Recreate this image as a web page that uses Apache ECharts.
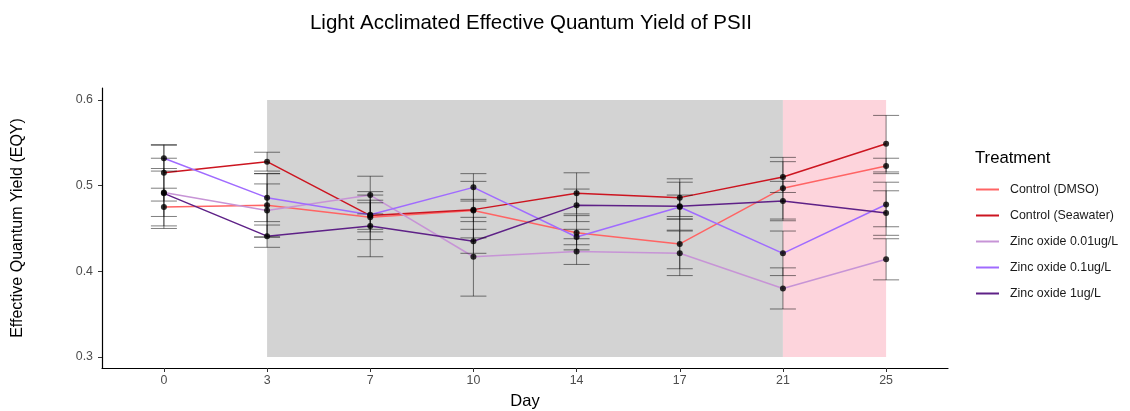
<!DOCTYPE html>
<html>
<head>
<meta charset="utf-8">
<script src="https://cdn.jsdelivr.net/npm/echarts@6/dist/echarts.min.js"></script>
<style>html,body{margin:0;padding:0;background:#fff}#c{width:1130px;height:411px}</style>
</head>
<body>
<div id="c"></div>
<script>
const days = ['0','3','7','10','14','17','21','25'];
const names = ['Control (DMSO)','Control (Seawater)','Zinc oxide 0.01ug/L','Zinc oxide 0.1ug/L','Zinc oxide 1ug/L'];
const colors = ['#ff6464','#cc1520','#c794d6','#a06bff','#5e2187'];
const dmso     = [0.475,0.477,0.463,0.471,0.445,0.432,0.497,0.523];
const dmsoErr  = [0.022,0.037,0.017,0.013,0.020,0.029,0.036,0.009];
const seawater = [0.515,0.528,0.465,0.472,0.491,0.486,0.510,0.549];
const seaErr   = [0.033,0.011,0.028,0.033,0.024,0.022,0.018,0.033];
const zn001    = [0.492,0.471,0.489,0.417,0.423,0.421,0.380,0.414];
const zn001Err = [0.028,0.031,0.022,0.046,0.015,0.026,0.024,0.024];
const zn01     = [0.532,0.486,0.466,0.498,0.440,0.475,0.421,0.478];
const zn01Err  = [0.015,0.028,0.017,0.016,0.009,0.014,0.026,0.026];
const zn1      = [0.491,0.441,0.453,0.435,0.477,0.476,0.482,0.468];
const zn1Err   = [0.041,0.013,0.036,0.014,0.019,0.028,0.023,0.026];
const yTicks = [0.3,0.4,0.5,0.6];
const greyBand = ['3','21'];
const pinkBand = ['21','25'];

const means = [dmso, seawater, zn001, zn01, zn1];
const errs = [dmsoErr, seaErr, zn001Err, zn01Err, zn1Err];
const xi = d => days.indexOf(d) + 1;

const series = [];
series.push({
  type: 'line', data: [], silent: true, z: 1,
  markArea: { silent: true, data: [
    [{ xAxis: xi(greyBand[0]), yAxis: 0.3, itemStyle: { color: '#d3d3d3' } }, { xAxis: xi(greyBand[1]), yAxis: 0.6 }],
    [{ xAxis: xi(pinkBand[0]), yAxis: 0.3, itemStyle: { color: '#fdd4dc' } }, { xAxis: xi(pinkBand[1]), yAxis: 0.6 }]
  ]}
});
names.forEach((n, k) => {
  series.push({
    name: n, type: 'line', z: 2, symbol: 'none', silent: true,
    color: colors[k],
    lineStyle: { color: colors[k], width: 1.5 },
    data: means[k].map((v, i) => [i + 1, v])
  });
});
const ebData = [];
names.forEach((n, k) => means[k].forEach((v, i) => ebData.push([i + 1, v, errs[k][i]])));
series.push({
  type: 'custom', z: 3, silent: true,
  data: ebData,
  encode: { x: 0, y: 1 },
  renderItem: (params, api) => {
    const x = api.value(0), m = api.value(1), e = api.value(2);
    const top = api.coord([x, m + e]);
    const bot = api.coord([x, m - e]);
    const hw = 13;
    const st = { stroke: 'rgba(0,0,0,0.5)', lineWidth: 1 };
    return { type: 'group', children: [
      { type: 'line', shape: { x1: top[0], y1: top[1], x2: bot[0], y2: bot[1] }, style: st },
      { type: 'line', shape: { x1: top[0]-hw, y1: top[1], x2: top[0]+hw, y2: top[1] }, style: st },
      { type: 'line', shape: { x1: bot[0]-hw, y1: bot[1], x2: bot[0]+hw, y2: bot[1] }, style: st }
    ]};
  }
});
const ptData = [];
means.forEach(arr => arr.forEach((v, i) => ptData.push([i + 1, v])));
series.push({
  type: 'scatter', z: 4, silent: true, symbolSize: 6,
  itemStyle: { color: '#000' }, data: ptData
});

const chart = echarts.init(document.getElementById('c'));
chart.setOption({
  animation: false,
  backgroundColor: '#fff',
  title: { text: 'Light Acclimated Effective Quantum Yield of PSII', left: 526, textAlign: 'center', top: 8,
    textStyle: { fontFamily: 'Liberation Sans', fontSize: 20.5, fontWeight: 'normal', color: '#000' } },
  grid: { left: 102, top: 88, width: 846, height: 280, outerBoundsMode: 'none', containLabel: false },
  legend: {
    orient: 'vertical', left: 971, top: 177, icon: 'rect', itemWidth: 23, itemHeight: 2, itemGap: 11,
    data: names,
    textStyle: { fontFamily: 'Liberation Sans', fontSize: 12.4, color: '#1a1a1a', lineHeight: 15, padding: [0,0,0,6] },
    selectedMode: false
  },
  graphic: [{ type: 'text', left: 975, top: 150, style: { text: 'Treatment', fontFamily: 'Liberation Sans', fontSize: 16.7, fill: '#000' } }],
  xAxis: {
    type: 'value', min: 0.4, max: 8.6,
    name: 'Day', nameLocation: 'middle', nameGap: 25,
    nameTextStyle: { fontFamily: 'Liberation Sans', fontSize: 16.5, color: '#000' },
    axisLine: { show: true, onZero: false, lineStyle: { color: '#000', width: 1.2 } },
    axisTick: { show: true, length: 4, customValues: days.map((d, i) => i + 1), lineStyle: { color: '#333' } },
    axisLabel: { customValues: days.map((d, i) => i + 1), formatter: v => days[Math.round(v) - 1], margin: 7,
      fontFamily: 'Liberation Sans', fontSize: 12.4, color: '#4d4d4d' },
    splitLine: { show: false }
  },
  yAxis: {
    type: 'value', min: 0.2871, max: 0.614,
    name: 'Effective Quantum Yield (EQY)', nameLocation: 'middle', nameGap: 76,
    nameTextStyle: { fontFamily: 'Liberation Sans', fontSize: 16, color: '#000' },
    axisLine: { show: true, onZero: false, lineStyle: { color: '#000', width: 1.2 } },
    axisTick: { show: true, length: 4, customValues: yTicks, lineStyle: { color: '#333' } },
    axisLabel: { customValues: yTicks, formatter: v => v.toFixed(1), margin: 9,
      fontFamily: 'Liberation Sans', fontSize: 12.4, color: '#4d4d4d' },
    splitLine: { show: false }
  },
  series: series
});
</script>
</body>
</html>
